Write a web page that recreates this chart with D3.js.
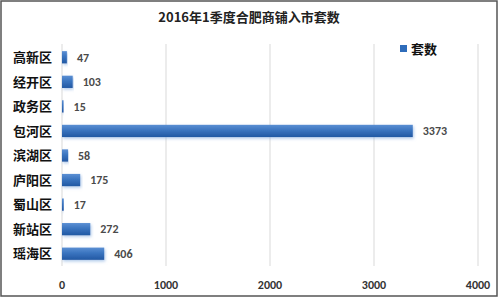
<!DOCTYPE html>
<html>
<head>
<meta charset="utf-8">
<script src="https://cdn.jsdelivr.net/npm/d3@7"></script>
<style>
  body { margin: 0; background: #fff; }
</style>
</head>
<body>
<svg id="svg"></svg>
<script>
// 数据
const districts = ['高新区', '经开区', '政务区', '包河区', '滨湖区', '庐阳区', '蜀山区', '新站区', '瑶海区']
const counts = [47, 103, 15, 3373, 58, 175, 17, 272, 406]
const xTicks = [0, 1000, 2000, 3000, 4000]
const seriesName = '套数'
const title = '2016年1季度合肥商铺入市套数'

const W = 500, H = 300
const fontCn = '"Noto Sans CJK SC", "Microsoft YaHei", sans-serif'
const fontNum = 'Calibri, "Liberation Sans", Arial, sans-serif'

const svg = d3.select('#svg').attr('width', W).attr('height', H)

// 外框
svg.append('rect')
    .attr('x', 1).attr('y', 1)
    .attr('width', W - 4).attr('height', H - 5)
    .attr('fill', '#fff')
    .attr('stroke', '#555').attr('stroke-width', 1.5)

const defs = svg.append('defs')
const grad = defs.append('linearGradient')
    .attr('id', 'barGrad').attr('x1', 0).attr('y1', 0).attr('x2', 0).attr('y2', 1)
grad.append('stop').attr('offset', '0%').attr('stop-color', '#5b8fd3')
grad.append('stop').attr('offset', '45%').attr('stop-color', '#3a74bf')
grad.append('stop').attr('offset', '100%').attr('stop-color', '#2158a3')

const shadow = defs.append('filter').attr('id', 'glow')
    .attr('x', '-10%').attr('y', '-40%').attr('width', '120%').attr('height', '180%')
shadow.append('feDropShadow')
    .attr('dx', 1).attr('dy', 1.5).attr('stdDeviation', 1.5)
    .attr('flood-color', '#7aa6dd').attr('flood-opacity', 0.6)

const x = d3.scaleLinear().domain([0, 4000]).range([62, 478])
const y = d3.scaleBand().domain(districts).range([45, 266]).paddingInner(0.5).paddingOuter(0.25)

// 网格线
svg.append('g')
    .selectAll('line')
    .data(xTicks)
    .join('line')
    .attr('x1', d => x(d)).attr('x2', d => x(d))
    .attr('y1', 44).attr('y2', 266)
    .attr('stroke', '#d9d9d9').attr('stroke-width', 1)

// x 轴刻度
svg.append('g')
    .selectAll('text')
    .data(xTicks)
    .join('text')
    .text(d => d)
    .attr('x', d => x(d))
    .attr('y', 289)
    .attr('text-anchor', 'middle')
    .attr('font-family', fontNum)
    .attr('font-size', 12)
    .attr('font-weight', 'bold')
    .attr('fill', '#333')

// 类别
svg.append('g')
    .selectAll('text')
    .data(districts)
    .join('text')
    .text(d => d)
    .attr('x', 52)
    .attr('y', d => y(d) + y.bandwidth() / 2)
    .attr('dy', '0.36em')
    .attr('text-anchor', 'end')
    .attr('font-family', fontCn)
    .attr('font-size', 13)
    .attr('font-weight', 'bold')
    .attr('fill', '#111')

// 柱
svg.append('g')
    .selectAll('rect')
    .data(counts)
    .join('rect')
    .attr('x', x(0))
    .attr('y', (d, i) => y(districts[i]))
    .attr('width', d => Math.max(1, x(d) - x(0)))
    .attr('height', y.bandwidth())
    .attr('fill', 'url(#barGrad)')
    .attr('filter', 'url(#glow)')

// 数值标签
svg.append('g')
    .selectAll('text')
    .data(counts)
    .join('text')
    .text(d => d)
    .attr('x', d => x(d) + 10)
    .attr('y', (d, i) => y(districts[i]) + y.bandwidth() / 2)
    .attr('dy', '0.36em')
    .attr('font-family', fontNum)
    .attr('font-size', 12)
    .attr('font-weight', 'bold')
    .attr('fill', '#4a4a4a')

// 标题
svg.append('text')
    .text(title)
    .attr('x', 249).attr('y', 22)
    .attr('text-anchor', 'middle')
    .attr('font-family', fontCn)
    .attr('font-size', 13)
    .attr('font-weight', 'bold')
    .attr('fill', '#222')

// 图例
svg.append('rect')
    .attr('x', 400).attr('y', 45)
    .attr('width', 7).attr('height', 7)
    .attr('fill', '#2e6cba')
svg.append('text')
    .text(seriesName)
    .attr('x', 411).attr('y', 49)
    .attr('dy', '0.36em')
    .attr('font-family', fontCn)
    .attr('font-size', 13)
    .attr('font-weight', 'bold')
    .attr('fill', '#111')
</script>
</body>
</html>
